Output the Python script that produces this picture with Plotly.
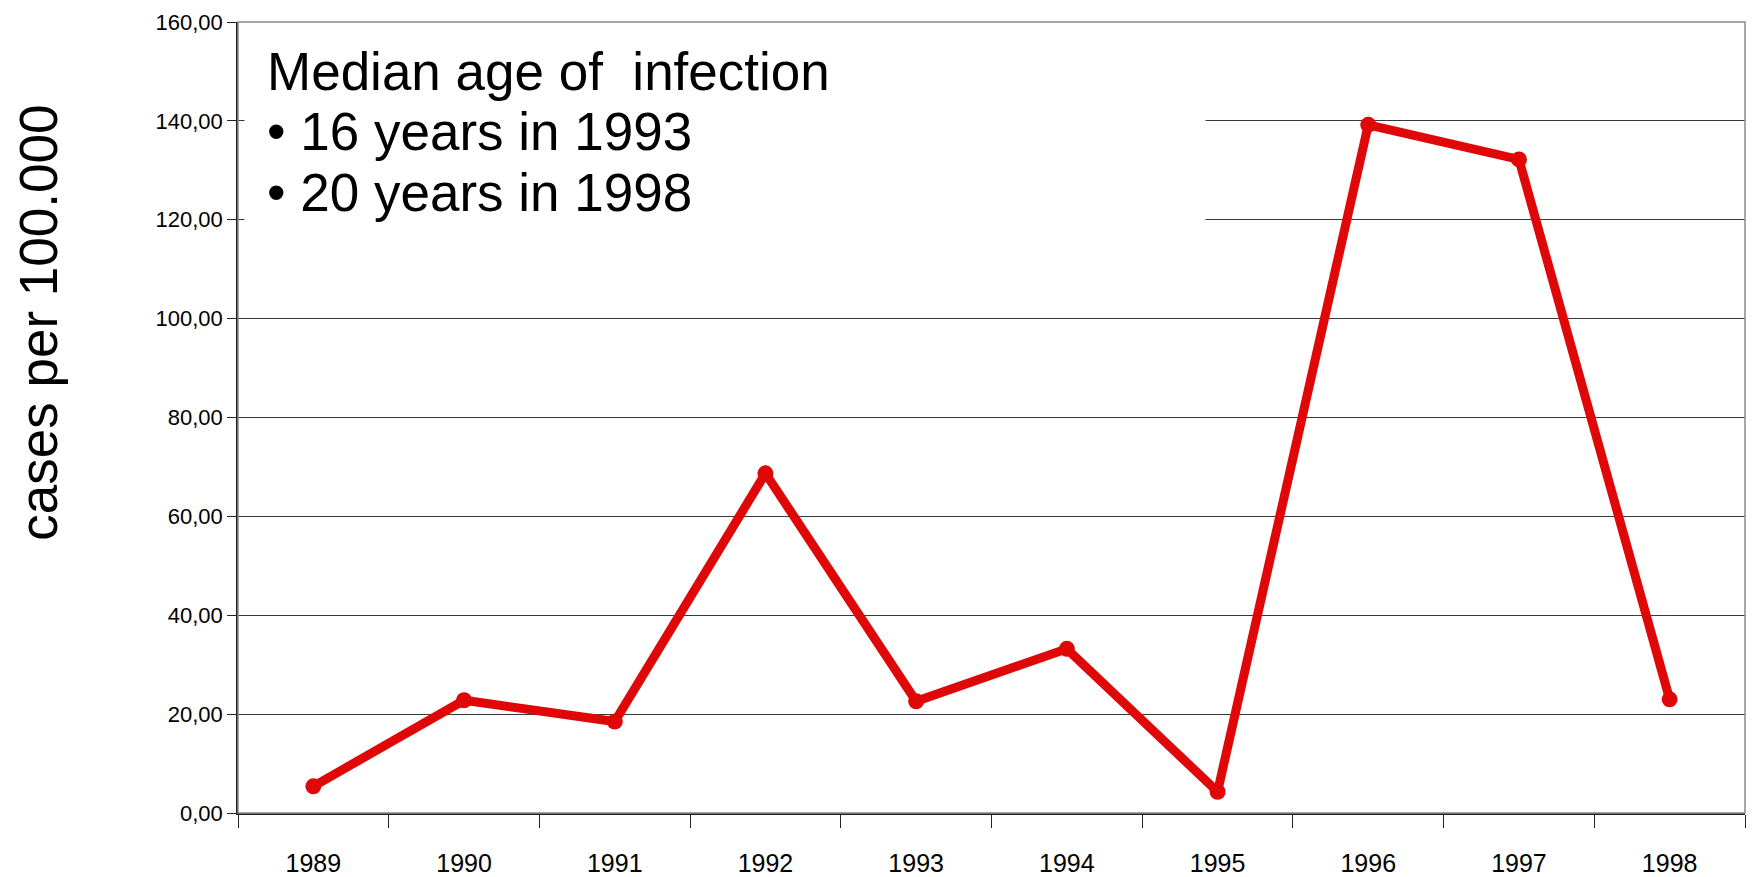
import plotly.graph_objects as go

# -----------------------------------------------------------------------
# Data
# -----------------------------------------------------------------------
years = ['1989', '1990', '1991', '1992', '1993',
         '1994', '1995', '1996', '1997', '1998']
cases = [5.4, 22.8, 18.5, 68.7, 22.6, 33.2, 4.3, 139.2, 132.2, 23.0]

y_ticks = [0, 20, 40, 60, 80, 100, 120, 140, 160]

note_lines = [
    'Median age of  infection',
    '\u2022 16 years in 1993',
    '\u2022 20 years in 1998',
]
note_y = [0.938, 0.862, 0.784]

_FONT = dict(family='Liberation Sans, Arial, sans-serif', color='#000')
_RED = '#DF0707'
_GRID = '#3a3a3a'

fig = go.Figure()
fig.add_trace(go.Scatter(
    x=years,
    y=cases,
    mode='lines+markers',
    line=dict(color=_RED, width=9),
    marker=dict(size=16, color=_RED),
    hovertemplate='%{x}<br>%{y:.2f}<extra></extra>',
))

# white box behind the note, hiding the gridlines
annotations = [dict(
    text=' ',
    xref='x domain', yref='y domain',
    x=0.004, y=0.992, xanchor='left', yanchor='top',
    width=960, height=222, bgcolor='white', borderpad=0,
    showarrow=False,
)]
for line, ypos in zip(note_lines, note_y):
    annotations.append(dict(
        text=line,
        xref='x domain', yref='y domain',
        x=0.018, y=ypos, xanchor='left', yanchor='middle',
        align='left', showarrow=False,
        font=dict(size=53),
    ))
annotations.append(dict(
    text='cases per 100.000',
    xref='paper', yref='paper',
    x=-0.132, y=0.62, xanchor='center', yanchor='middle',
    textangle=-90, showarrow=False,
    font=dict(size=53),
))

fig.update_layout(
    width=1752,
    height=877,
    margin=dict(l=238, r=7, t=22, b=64),
    paper_bgcolor='white',
    plot_bgcolor='white',
    font=_FONT,
    separators=', ',
    showlegend=False,
    xaxis=dict(
        type='category',
        range=[-0.5, 9.5],
        tickson='boundaries',
        ticks='outside',
        ticklen=13,
        tickcolor='#222',
        tickfont=dict(size=25),
        ticklabelstandoff=27,
        showgrid=False,
        showline=True,
        linecolor='#222',
        linewidth=1.5,
        zeroline=False,
        automargin=False,
    ),
    yaxis=dict(
        range=[0, 160],
        tickvals=y_ticks,
        tickformat='.2f',
        ticks='outside',
        ticklen=9,
        tickcolor='#222',
        tickfont=dict(size=22),
        showgrid=True,
        gridcolor=_GRID,
        gridwidth=1,
        showline=True,
        linecolor='#222',
        linewidth=1.5,
        zeroline=False,
        automargin=False,
    ),
    shapes=[
        # plot-area frame (grey, Excel style)
        dict(type='rect', xref='x domain', yref='y domain',
             x0=0, x1=1, y0=0, y1=1,
             line=dict(color='#8a8a8a', width=1.5)),
    ],
    annotations=annotations,
)

# drop the browser's default body margin so the figure fills the window
fig.write_html(
    'out.html',
    config={'displayModeBar': False},
    post_script="document.body.style.margin = '0';",
)
